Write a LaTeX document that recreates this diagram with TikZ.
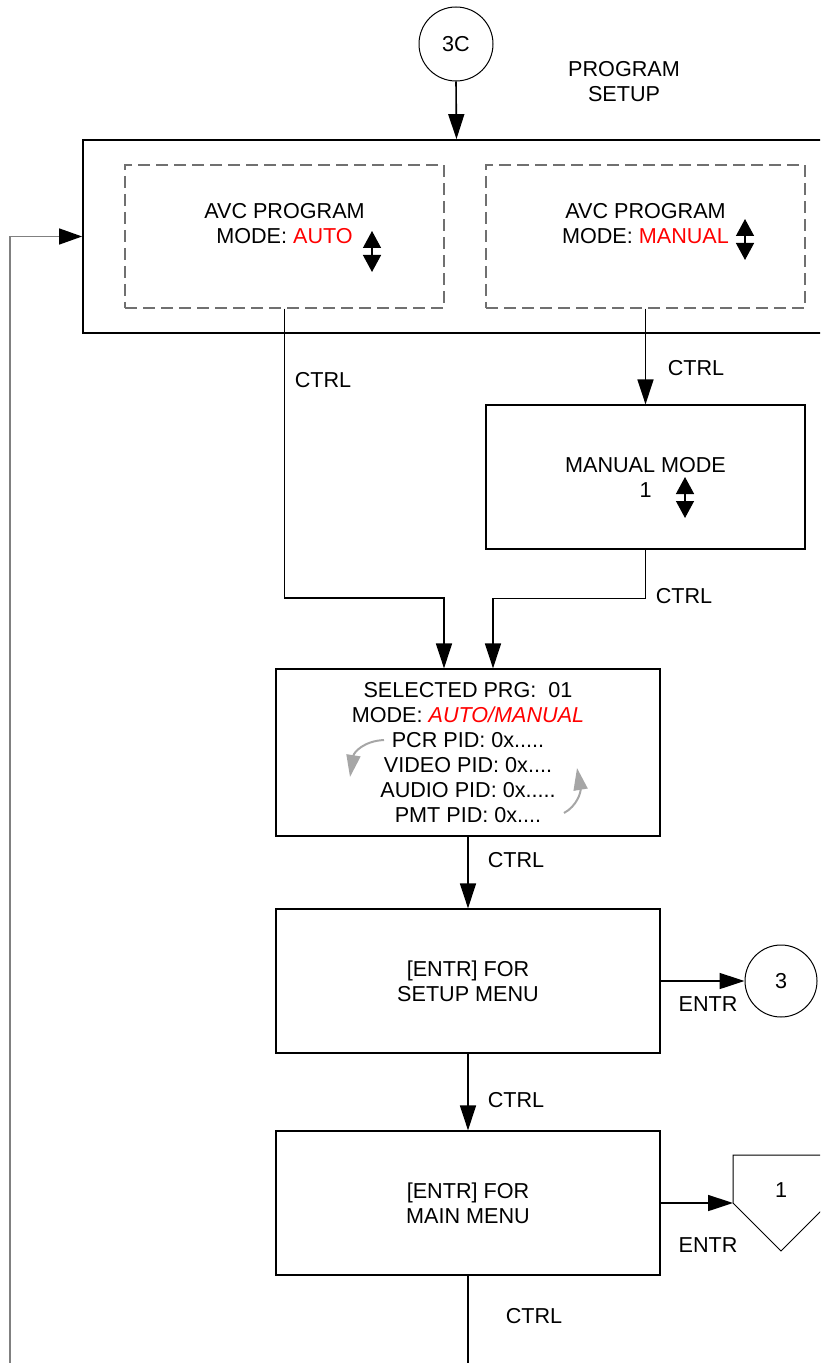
\documentclass[tikz,border=0pt]{standalone}
\usepackage{fontspec}
\setmainfont{Liberation Sans}
\usetikzlibrary{arrows.meta}
\definecolor{ModeRed}{HTML}{FF0000}
\definecolor{DashGray}{HTML}{707070}
\definecolor{LoopGray}{HTML}{808080}
\definecolor{CycleGray}{HTML}{A6A6A6}
\tikzset{
  menubox/.style={
    draw=black,line width=0.6pt,
    minimum width=192pt,minimum height=72pt,
    font=\fontsize{10.8}{12.5}\selectfont,
    align=center,inner sep=0pt
  },
  modebox/.style={
    draw=DashGray,line width=0.7pt,dash pattern=on 6pt off 3pt,
    minimum width=159.5pt,minimum height=71.5pt,inner sep=0pt
  },
  pagecon/.style={
    draw=black,circle,line width=0.5pt,minimum size=36pt,inner sep=0pt,
    font=\fontsize{10.8}{12.5}\selectfont
  },
  txt/.style={font=\fontsize{10.8}{12.5}\selectfont,align=center,inner sep=0pt},
  flow/.style={-{Triangle[length=12.5pt,width=8pt]},line width=0.8pt},
  updown/.style={{Triangle[length=8.5pt,width=9pt]}-{Triangle[length=8.5pt,width=9pt]},line width=0.7pt},
  cyclearrow/.style={-{Triangle[length=11pt,width=7pt]},draw=CycleGray,line width=1pt},
  loopback/.style={draw=LoopGray,line width=0.7pt,-{Triangle[length=11.5pt,width=8pt,color=black]}},
}
\begin{document}
\begin{tikzpicture}[x=0.5pt,y=-0.5pt]
  \useasboundingbox (0,0) rectangle (820,1363);
  \clip (0,0) rectangle (820,1363);
  \node[pagecon,minimum size=37pt] (c3c) at (456,44) {3C};
  \node[txt] (title) at (624,82) {PROGRAM\\SETUP};
  \node[menubox,line width=0.9pt,minimum width=373.5pt,minimum height=96.5pt] (prog) at (456.5,236.5) {};
  \node[modebox] (autobox) at (284.5,236.5) {};
  \node[modebox] (manbox) at (645.5,236.5) {};
  \node[txt] (autotxt) at (284.5,224) {AVC PROGRAM\\MODE: \textcolor{ModeRed}{AUTO}};
  \node[txt] (mantxt) at (645.5,224) {AVC PROGRAM\\MODE: \textcolor{ModeRed}{MANUAL}};
  \draw[updown] (372,231) -- (372,272);
  \draw[updown] (745,219) -- (745,260);
  \node[menubox,minimum width=159.5pt] (manual) at (645.5,477) {MANUAL MODE\\1};
  \draw[updown] (685,477) -- (685,518);
  \node[menubox,minimum height=83.5pt] (sel) at (468,752.5) {SELECTED PRG:\ \ 01\\MODE: \textcolor{ModeRed}{\itshape AUTO/MANUAL}\\PCR PID: 0x.....\\VIDEO PID: 0x....\\AUDIO PID: 0x.....\\PMT PID: 0x....};
  \draw[cyclearrow] (384,740) .. controls (364,741) and (354,752) .. (350,777);
  \draw[cyclearrow] (564,813) .. controls (577,806) and (581,792) .. (577,768);
  \node[menubox] (setup) at (468,981) {[ENTR] FOR\\SETUP MENU};
  \node[pagecon] (c3) at (781,981) {3};
  \node[menubox] (mainm) at (468,1203) {[ENTR] FOR\\MAIN MENU};
  % off-page connector
  \draw[line width=0.5pt] (733,1155) -- (733,1203) -- (781,1251) -- (829,1203) -- (829,1155) -- cycle;
  \coordinate (pg1in) at (733,1203);
  \node[txt] (pg1) at (781,1190) {1};
  \coordinate (bottomend) at (468,1370);
  \coordinate (loopstart) at (10,1370);
  % connectors
  \draw[flow] (c3c.south) -- (prog.north);
  \draw[flow] (manbox.south) -- (manual.north);
  \draw[flow] (autobox.south) -- ++(0,289) -| ([xshift=-12pt]sel.north);
  \draw[flow] (manual.south) -- ++(0,49) -| ([xshift=12.5pt]sel.north);
  \draw[flow] (sel.south) -- (setup.north);
  \draw[flow] (setup.east) -- (c3.west);
  \draw[flow] (setup.south) -- (mainm.north);
  \draw[flow] (mainm.east) -- (pg1in);
  \draw[line width=0.8pt] (mainm.south) -- (bottomend);
  \draw[loopback] (loopstart) |- (prog.west);
  % labels
  \node[txt] (lctrl1) at (323,380) {CTRL};
  \node[txt] (lctrl2) at (696,368) {CTRL};
  \node[txt] (lctrl3) at (684,596) {CTRL};
  \node[txt] (lctrl4) at (516,860) {CTRL};
  \node[txt] (lentr1) at (708,1004) {ENTR};
  \node[txt] (lctrl5) at (516,1100) {CTRL};
  \node[txt] (lentr2) at (708,1245) {ENTR};
  \node[txt] (lctrl6) at (534,1316) {CTRL};
\end{tikzpicture}
\end{document}
